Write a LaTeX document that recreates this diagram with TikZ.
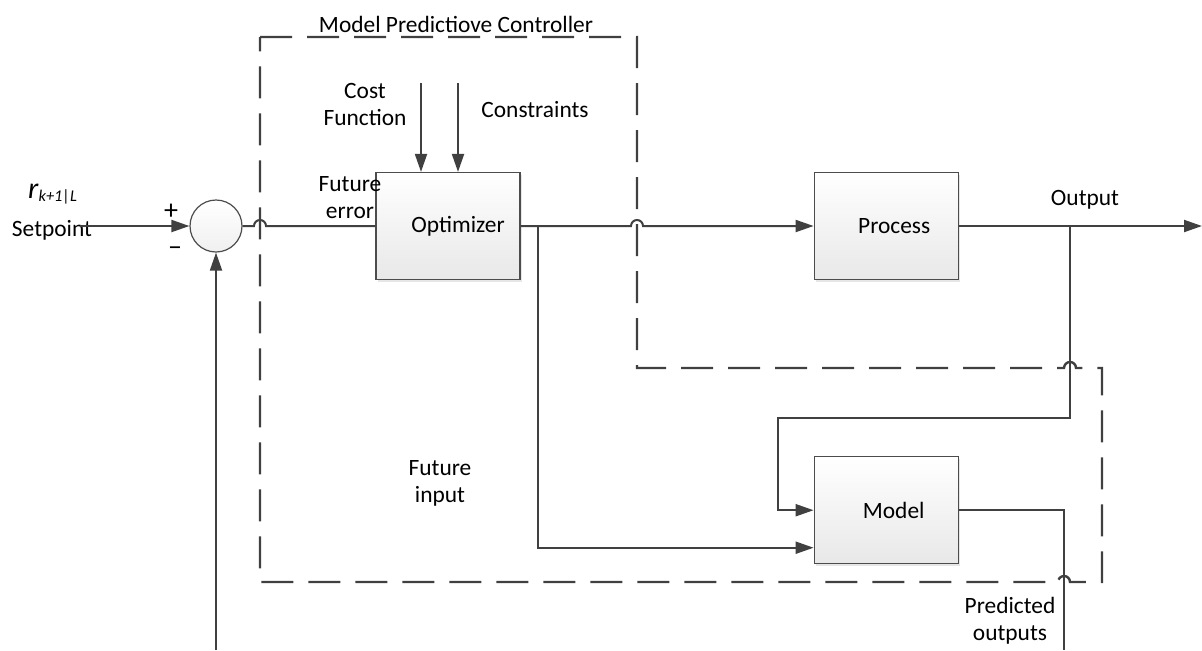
\documentclass[tikz,border=0pt]{standalone}
\usepackage{fontspec}
\setmainfont{Carlito}
\usetikzlibrary{positioning, arrows.meta, shadows}
\tikzset{
    >={Triangle[length=9pt, width=6pt]}, % filled arrow heads
    wire/.style={draw=black!75, line width=1pt}, % signal lines
    mpc/.style={draw=black!75, line width=1.2pt, dash pattern=on 16pt off 7.5pt}, % controller boundary
    block/.style={draw=black!70, line width=0.6pt, top color=white, bottom color=black!9,
        minimum width=72pt, minimum height=53.5pt, inner sep=0pt,
        drop shadow={opacity=0.2, shadow xshift=1pt, shadow yshift=-1pt}}, % process blocks
    sumnode/.style={circle, draw=black!70, line width=0.6pt, top color=white, bottom color=black!6,
        minimum size=26pt, inner sep=0pt}, % summing junction
    lbl/.style={align=center, inner sep=0pt}, % free text
    sign/.style={inner sep=0pt, font=\fontsize{14}{16}\selectfont}, % + and - at the junction
}
\begin{document}
\begin{tikzpicture}[x=0.5pt, y=-0.5pt, font=\fontsize{11.7}{13.5}\selectfont]
\useasboundingbox (0,0) rectangle (1202,650);
% blocks
\node[sumnode] (sum) at (216,226) {};
\node[block] (opt) at (448,226) {\hspace*{10pt}Optimizer};
\node[block, right=146.5pt of opt] (proc) {\hspace*{8pt}Process};
\node[block, below=88pt of proc] (model) {\hspace*{7.5pt}Model};
% free ends and branch points
\coordinate (sp) at (80,226);
\coordinate (fb) at (216,650);
\coordinate (cf) at (421,83);
\coordinate (cs) at (458,83);
\coordinate (br1) at (538,226);
\coordinate (br2) at (1070,226);
\coordinate (out) at (1202,226);
\coordinate (pred) at (1064,650);
% texts
\node[lbl] (title) at (456,24) {Model Predictiove Controller};
\node[lbl] (costlbl) at (365,104) {Cost\\Function};
\node[lbl] (conslbl) at (535,110) {Constraints};
\node[lbl] (errlbl) at (350,198) {Future\\error};
\node[lbl] (inlbl) at (440,483) {Future\\input};
\node[lbl] (outlbl) at (1085,200) {Output};
\node[lbl] (predlbl) at (1010,621) {Predicted\\outputs};
\node[lbl] (rlbl) at (53,194) {{\fontsize{15}{16}\selectfont\textit{r}}\textsubscript{\itshape k+1|L}};
\node[lbl] (splbl) at (52,230) {Setpoint};
\node[sign] (plus) at (171,212) {+};
\node[sign] (minus) at (175,251) {\textendash};
% connectors
\draw[wire, ->] (sp) -- (sum.west);
\draw[wire, ->] (fb) -- (sum.south);
\draw[wire] (sum.east) -- (254,226) arc[start angle=180, end angle=0, radius=3pt] -- (opt.west);
\draw[wire, ->] (cf) -- (cf |- opt.north);
\draw[wire, ->] (cs) -- (cs |- opt.north);
\draw[wire, ->] (opt.east) -- (631,226) arc[start angle=180, end angle=0, radius=3pt] -- (proc.west);
\draw[wire, ->] (br1) |- ([yshift=-18.75pt]model.west);
\draw[wire, ->] (proc.east) -- (out);
\draw[wire, ->] (br2) |- (778,418) |- (model.west);
\draw[wire] (model.east) -| (pred);
% controller boundary
\draw[mpc] (260,37) -- (637,37) -- (637,368) -- (1064,368)
    arc[start angle=180, end angle=0, radius=3pt] -- (1102,368) -- (1102,582) -- (1070,582)
    arc[start angle=0, end angle=180, radius=3pt] -- (260,582) -- cycle;
\end{tikzpicture}
\end{document}
